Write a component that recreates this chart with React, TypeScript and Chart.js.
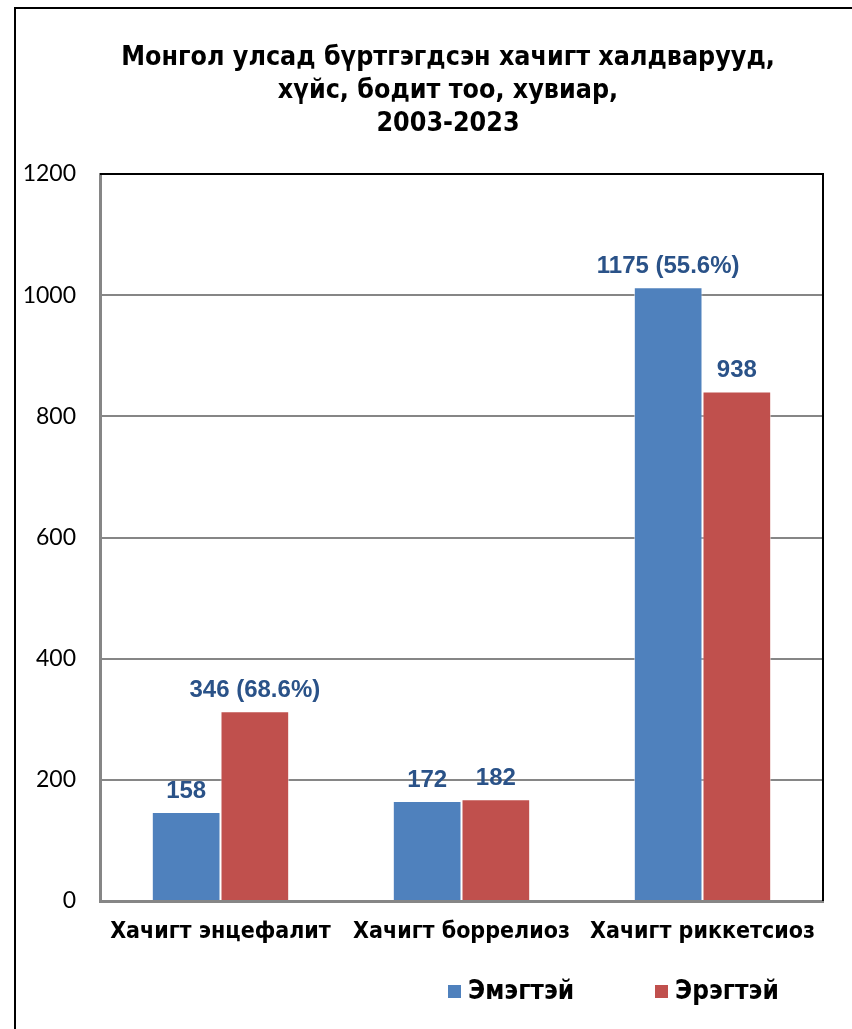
import React, { useEffect, useRef } from "react";
import { Chart, registerables } from "chart.js";

Chart.register(...registerables);

const titleLines = [
  "Монгол улсад бүртгэгдсэн хачигт халдварууд,",
  "хүйс, бодит тоо, хувиар,",
  "2003-2023",
];
const categories = ["Хачигт энцефалит", "Хачигт боррелиоз", "Хачигт риккетсиоз"];
const seriesNames = ["Эмэгтэй", "Эрэгтэй"];
const femaleValues = [147, 165, 1013];
const maleValues = [313, 168, 841];
const femaleLabels = ["158", "172", "1175 (55.6%)"];
const maleLabels = ["346 (68.6%)", "182", "938"];
const yMin = 0;
const yMax = 1200;
const yStep = 200;

const NARROW = '"Liberation Sans Narrow", "DejaVu Sans Condensed", "Roboto Condensed", sans-serif';
const BLUE = "#4F81BD";
const RED = "#C0504D";
const LABEL_BLUE = "#2A5288";

const decorPlugin = {
  id: "decor",
  beforeDraw(chart: any) {
    const ctx = chart.ctx;
    ctx.save();
    ctx.fillStyle = "#ffffff";
    ctx.fillRect(0, 0, chart.width, chart.height);
    ctx.strokeStyle = "#000000";
    ctx.lineWidth = 2;
    ctx.beginPath();
    ctx.moveTo(15, chart.height);
    ctx.lineTo(15, 8);
    ctx.lineTo(chart.width, 8);
    ctx.stroke();
    ctx.restore();
  },
  afterDraw(chart: any) {
    const ctx = chart.ctx;
    const area = chart.chartArea;
    ctx.save();
    ctx.strokeStyle = "#000000";
    ctx.lineWidth = 2;
    ctx.beginPath();
    ctx.moveTo(area.left, area.top);
    ctx.lineTo(area.right, area.top);
    ctx.lineTo(area.right, area.bottom);
    ctx.stroke();

    ctx.fillStyle = "#000000";
    ctx.font = `bold 26.6px ${NARROW}`;
    ctx.textAlign = "center";
    ctx.textBaseline = "middle";
    titleLines.forEach((t, i) => ctx.fillText(t, 448, 58 + i * 33));

    ctx.font = 'bold 24px "Liberation Sans", Arial, sans-serif';
    ctx.fillStyle = LABEL_BLUE;
    ctx.textBaseline = "bottom";
    const labelSets = [femaleLabels, maleLabels];
    chart.data.datasets.forEach((ds: any, di: number) => {
      const meta = chart.getDatasetMeta(di);
      meta.data.forEach((bar: any, i: number) => {
        ctx.fillText(labelSets[di][i], bar.x, bar.y - 9);
      });
    });

    const legendX = [448, 655];
    ctx.font = `bold 26px ${NARROW}`;
    ctx.textAlign = "left";
    ctx.textBaseline = "middle";
    chart.data.datasets.forEach((ds: any, di: number) => {
      ctx.fillStyle = ds.backgroundColor;
      ctx.fillRect(legendX[di], 985, 13, 13);
      ctx.fillStyle = "#000000";
      ctx.fillText(ds.label, legendX[di] + 20, 992);
    });
    ctx.restore();
  },
};

export default function App() {
  const ref = useRef<HTMLCanvasElement | null>(null);
  useEffect(() => {
    if (!ref.current) return;
    const chart = new Chart(ref.current, {
      type: "bar",
      data: {
        labels: categories,
        datasets: [
          {
            label: seriesNames[0],
            data: femaleValues,
            backgroundColor: BLUE,
            borderColor: "rgba(255,255,255,0.6)",
            borderWidth: 1,
          },
          {
            label: seriesNames[1],
            data: maleValues,
            backgroundColor: RED,
            borderColor: "rgba(255,255,255,0.6)",
            borderWidth: 1,
          },
        ],
      },
      options: {
        animation: false,
        responsive: false,
        maintainAspectRatio: false,
        datasets: { bar: { categoryPercentage: 0.57, barPercentage: 1 } },
        layout: { padding: { top: 174, right: 29, bottom: 0, left: 0 } },
        plugins: {
          legend: { display: false },
          title: { display: false },
          tooltip: { enabled: false },
        },
        scales: {
          x: {
            grid: { display: false, drawTicks: false },
            border: { display: true, color: "#868686", width: 3 },
            ticks: {
              color: "#000000",
              font: { family: NARROW, size: 23, weight: "bold" },
              padding: 17,
              maxRotation: 0,
              autoSkip: false,
            },
            afterFit: (scale: any) => {
              scale.height = 128;
            },
          },
          y: {
            min: yMin,
            max: yMax,
            grid: { color: "#868686", lineWidth: 2, drawTicks: false },
            border: { display: true, color: "#868686", width: 3 },
            ticks: {
              stepSize: yStep,
              color: "#000000",
              font: { family: "Lato, sans-serif", size: 23 },
              padding: 24,
              callback: (v: any) => String(v),
            },
            afterFit: (scale: any) => {
              scale.width = 100;
            },
          },
        },
      } as any,
      plugins: [decorPlugin],
    });
    return () => chart.destroy();
  }, []);
  return (
    <div style={{ position: "absolute", left: 0, top: 0, width: 852, height: 1029, background: "#fff" }}>
      <canvas ref={ref} width={852} height={1029} style={{ display: "block", width: 852, height: 1029 }} />
    </div>
  );
}
